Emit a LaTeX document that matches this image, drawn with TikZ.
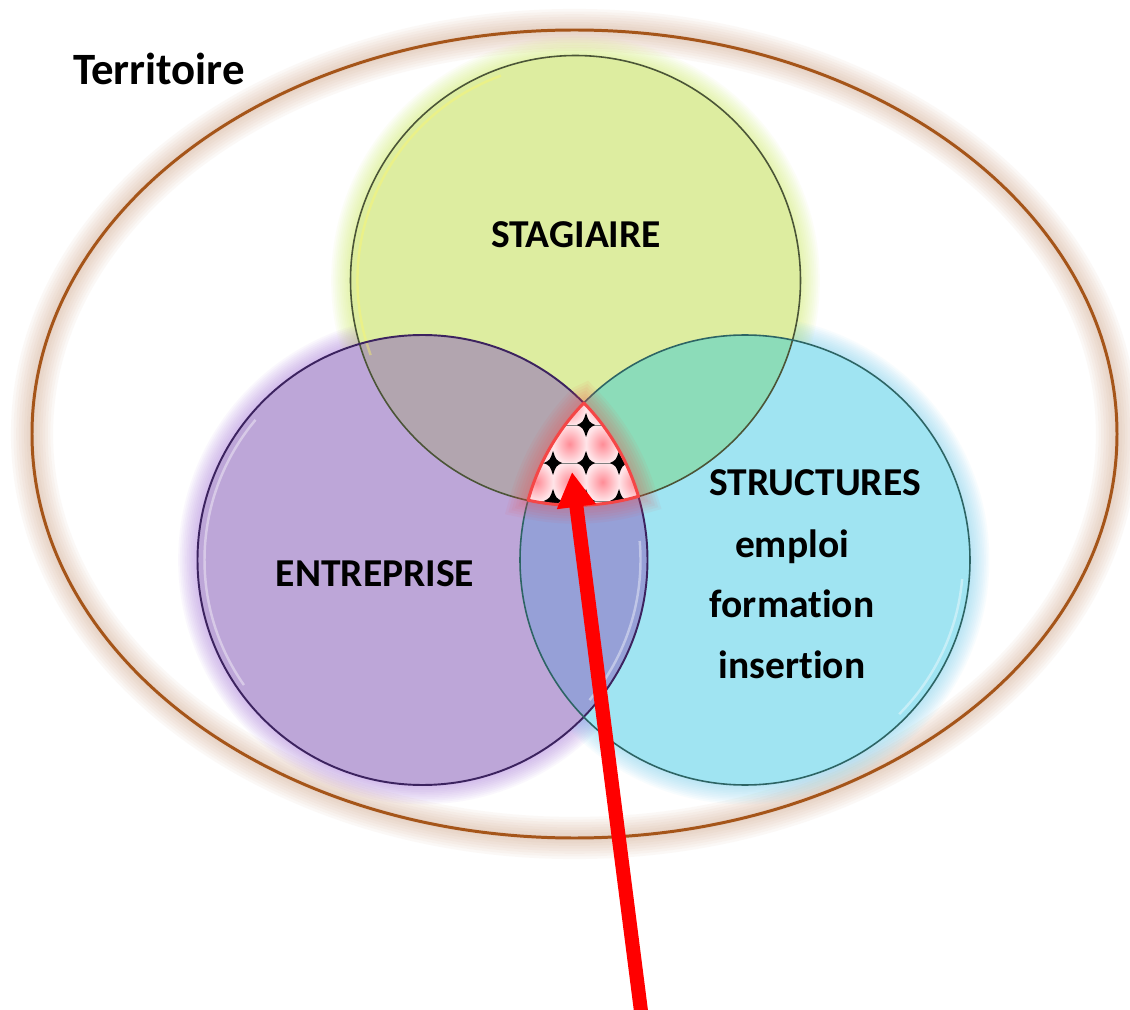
\documentclass[tikz,border=0pt]{standalone}
\usepackage{fontspec}
\setmainfont{Carlito}[Ligatures=CommonOff]
\usetikzlibrary{arrows.meta}

\definecolor{brun}{RGB}{165,85,25}
\definecolor{brunhalo}{RGB}{195,135,95}
\definecolor{jaune}{RGB}{221,237,160}
\definecolor{jaunehalo}{RGB}{205,235,90}
\definecolor{jaunebord}{RGB}{75,85,55}
\definecolor{violet}{RGB}{189,166,216}
\definecolor{violethalo}{RGB}{165,115,220}
\definecolor{violetbord}{RGB}{60,35,95}
\definecolor{cyan}{RGB}{160,228,242}
\definecolor{cyanhalo}{RGB}{110,205,240}
\definecolor{cyanbord}{RGB}{45,100,100}
\definecolor{jv}{RGB}{178,165,175}
\definecolor{jc}{RGB}{140,220,185}
\definecolor{vc}{RGB}{150,160,215}
\definecolor{rosefond}{RGB}{255,228,232}
\definecolor{rosecoeur}{RGB}{255,140,150}
\definecolor{rougebord}{RGB}{245,70,70}
\definecolor{flecherouge}{RGB}{255,0,0}

\begin{document}
\begin{tikzpicture}[x=0.02cm,y=0.02cm,>=Stealth]
  % one unit = one pixel of the 1130 x 1009 frame
  \def\rc{225} % circle radius
  \tikzset{
    lab/.style    = {font=\fontsize{22.5}{27}\selectfont\bfseries, inner sep=0pt, anchor=base},
    halo/.style   = {opacity=0.05},
    reflet/.style = {white, opacity=0.4, line width=1.4pt},
    fleche/.style = {draw=flecherouge, line width=8pt, -{Triangle[length=0.7cm,width=0.74cm]}}
  }
  \fill[white] (0,0) rectangle (1130,1009);
  \useasboundingbox (0,0) rectangle (1130,1009);

  % centres
  \coordinate (terr) at (574.5,575);
  \coordinate (cStag) at (575.5,728.5);
  \coordinate (cEntr) at (422.5,449);
  \coordinate (cStru) at (745,449);
  % common zone of the three circles (corners computed by hand)
  \coordinate (zT) at (583.75,605.9);
  \def\zone{(zT) arc[start angle=135.8,end angle=164.6,radius=\rc]
                 arc[start angle=257.8,end angle=286.2,radius=\rc]
                 arc[start angle=16.4,end angle=44.2,radius=\rc] -- cycle}

  % ========= Territoire =========
  \foreach \w in {3,6,...,24} { \draw[brunhalo, halo, line width=\w pt] (terr) ellipse[x radius=542.5, y radius=404]; }
  \draw[brun, line width=1.7pt] (terr) ellipse[x radius=542.5, y radius=404];
  \node[lab, font=\fontsize{25.5}{30}\selectfont\bfseries] (territoire) at (159,924) {Territoire};

  % ========= halos of the circles =========
  \foreach \w in {2,4,...,22} {
    \draw[jaunehalo, halo, line width=\w pt] (cStag) circle[radius=\rc];
    \draw[violethalo, halo, line width=\w pt] (cEntr) circle[radius=\rc];
    \draw[cyanhalo, halo, line width=\w pt] (cStru) circle[radius=\rc];
  }

  % ========= fills =========
  \fill[jaune] (cStag) circle[radius=\rc];
  \fill[violet] (cEntr) circle[radius=\rc];
  \fill[cyan] (cStru) circle[radius=\rc];
  % pairwise overlaps
  \begin{scope}
    \clip (cStag) circle[radius=\rc];
    \fill[jv] (cEntr) circle[radius=\rc];
    \fill[jc] (cStru) circle[radius=\rc];
  \end{scope}
  \begin{scope}
    \clip (cEntr) circle[radius=\rc];
    \fill[vc] (cStru) circle[radius=\rc];
  \end{scope}

  % highlights inside the rims
  \draw[reflet, yellow!60!white] (cStag) ++(110:218) arc[start angle=110,end angle=200,radius=218];
  \draw[reflet] (cEntr) ++(140:218) arc[start angle=140,end angle=215,radius=218];
  \draw[reflet] (cEntr) ++(-40:218) arc[start angle=-40,end angle=5,radius=218];
  \draw[reflet] (cStru) ++(-45:218) arc[start angle=-45,end angle=-5,radius=218];

  % outlines
  \draw[jaunebord, line width=0.9pt] (cStag) circle[radius=\rc];
  \draw[violetbord, line width=1.1pt] (cEntr) circle[radius=\rc];
  \draw[cyanbord, line width=0.9pt] (cStru) circle[radius=\rc];

  % ========= common zone =========
  \foreach \w in {3,6,...,21} { \draw[rougebord, opacity=0.06, line width=\w pt] \zone; }
  \begin{scope}
    \clip \zone;
    \fill[rosefond] (500,460) rectangle (670,630);
    % pink cells
    \foreach \x in {536.5,569.5,602.5,635.5} {
      \foreach \y in {603,565,527,489} {
        \shade[inner color=rosecoeur, outer color=rosefond] (\x-16.5,\y-19) rectangle (\x+16.5,\y+19);
      }
    }
    % rows
    \foreach \y in {622,584,546,508} { \draw[gray, line width=0.4pt] (500,\y) -- (670,\y); }
    % stars at the corners
    \foreach \x in {520,553,586,619,652} {
      \foreach \y in {622,584,546,508,470} {
        \fill[black, shift={(\x,\y)}] (0,12) .. controls (3,3) .. (9,0)
          .. controls (3,-3) .. (0,-12) .. controls (-3,-3) .. (-9,0)
          .. controls (-3,3) .. cycle;
      }
    }
  \end{scope}
  \draw[rougebord, line width=1.7pt, line join=round] \zone;

  % ========= labels =========
  \node[lab] (stag) at (576,761) {STAGIAIRE};
  \node[lab] (entr) at (375,423) {ENTREPRISE};
  \node[lab] (stru) at (815,514) {STRUCTURES};
  \node[lab] (emploi) at (792,452) {emploi};
  \node[lab] (formation) at (792,392) {formation};
  \node[lab] (insertion) at (792,331) {insertion};

  % ========= arrow =========
  \coordinate (tail) at (642,-10);
  \coordinate (tip) at (572,537);
  \draw[fleche] (tail) -- (tip);
\end{tikzpicture}
\end{document}
